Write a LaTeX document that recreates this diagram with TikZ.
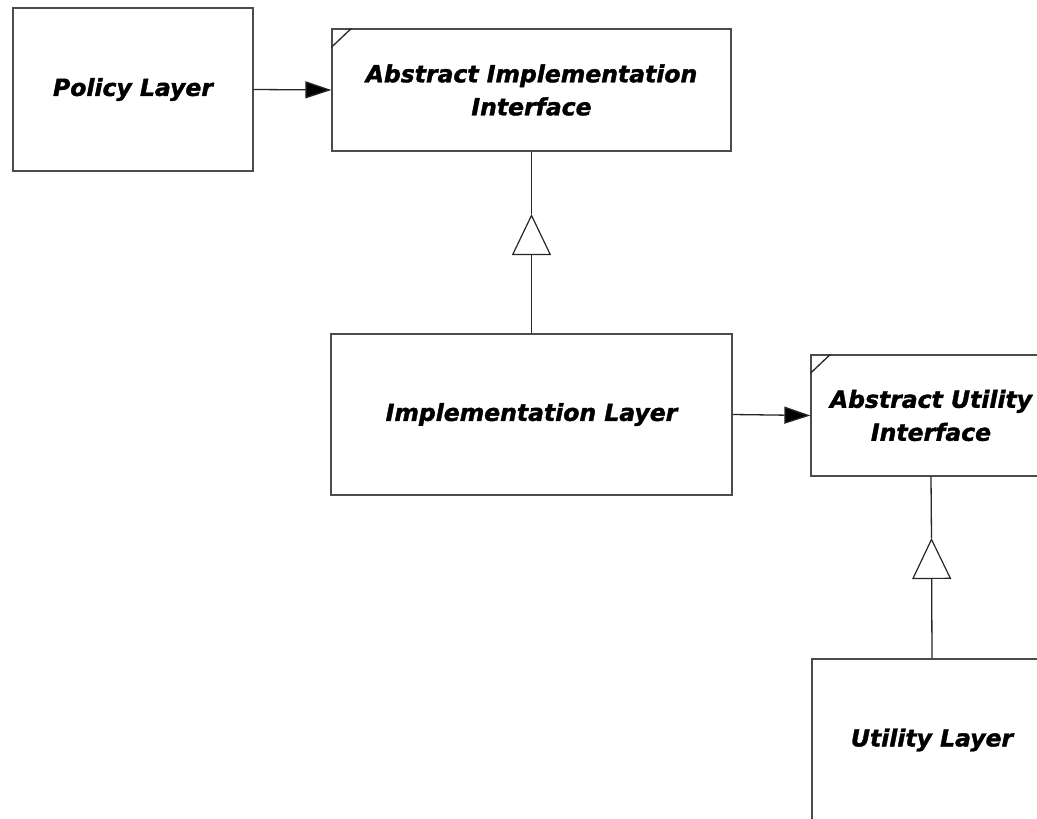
\documentclass[tikz,border=0pt]{standalone}
\usepackage{fontspec}
\newfontfamily\lbl[FakeBold=1.6]{DejaVu Sans Bold Oblique}
\usetikzlibrary{arrows.meta}
\tikzset{
  box/.style={draw=black!70, line width=1.3pt, fill=white, minimum width=#1, inner sep=0pt, align=center,
     font=\lbl\fontsize{23.5}{33}\selectfont},
  conn/.style={draw=black!85, line width=1.3pt},
  dep/.style={conn, -{Triangle[length=26pt,width=17pt,fill=black]}},
  gen/.style={conn, -{Triangle[open,length=41pt,width=39pt,line width=1.2pt]}},
}
\begin{document}
\begin{tikzpicture}[x=1pt,y=-1pt]
\useasboundingbox (0,0) rectangle (1037,819);
\clip (0,0) rectangle (1037,819);
\node[box=240pt, minimum height=163pt] (policy) at (133,89.5) {Policy Layer};
\node[box=399pt, minimum height=122pt] (absimpl) at (531.5,90) {Abstract Implementation\\Interface};
\node[box=401pt, minimum height=161pt] (impl) at (531.5,414.5) {Implementation Layer};
\node[box=240pt, minimum height=121pt] (absutil) at (931,415.5) {Abstract Utility\\Interface};
\node[box=240pt, minimum height=162pt] (util) at (932,740) {Utility Layer};
% corner ticks
\draw[conn] ([yshift=-19pt]absimpl.north west) -- ([xshift=20pt]absimpl.north west);
\draw[conn] ([yshift=-19pt]absutil.north west) -- ([xshift=20pt]absutil.north west);
% dependencies
\draw[dep] (policy.east) -- (absimpl.west);
\draw[dep] (impl.east) -- (absutil.west);
% generalizations
\coordinate (apex1) at (531.5,214);
\coordinate (apex2) at (931.5,538);
\draw[conn] (absimpl.south) -- (apex1);
\draw[gen] (impl.north) -- (apex1);
\draw[conn] (absutil.south) -- (apex2);
\draw[gen] (util.north) -- (apex2);
\end{tikzpicture}
\end{document}
